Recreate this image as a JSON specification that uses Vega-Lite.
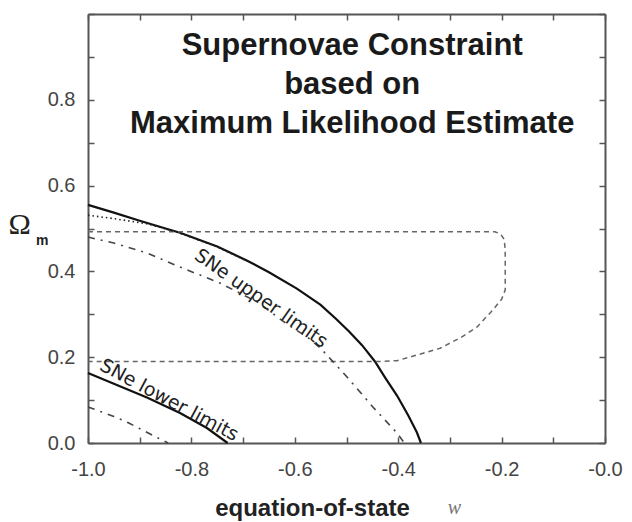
{
  "$schema": "https://vega.github.io/schema/vega-lite/v6.json",
  "width": 517,
  "height": 429,
  "autosize": {"type": "none"},
  "padding": {"left": 88, "top": 14, "right": 27, "bottom": 79},
  "background": "white",
  "config": {
    "view": {"stroke": null},
    "axis": {"grid": false, "domainColor": "#555", "domainWidth": 2, "tickColor": "#555", "tickWidth": 1.5, "tickSize": -6, "labelFont": "Liberation Sans", "labelFontSize": 20, "labelColor": "#444", "labelOverlap": false, "labelFlush": false}
  },
  "datasets": {
    "curves": [
      {"series": "upper_solid", "o": 1, "w": -1.0, "om": 0.555},
      {"series": "upper_solid", "o": 2, "w": -0.95, "om": 0.537},
      {"series": "upper_solid", "o": 3, "w": -0.9, "om": 0.518},
      {"series": "upper_solid", "o": 4, "w": -0.85, "om": 0.5},
      {"series": "upper_solid", "o": 5, "w": -0.822, "om": 0.49},
      {"series": "upper_solid", "o": 6, "w": -0.75, "om": 0.458},
      {"series": "upper_solid", "o": 7, "w": -0.692, "om": 0.425},
      {"series": "upper_solid", "o": 8, "w": -0.65, "om": 0.398},
      {"series": "upper_solid", "o": 9, "w": -0.596, "om": 0.36},
      {"series": "upper_solid", "o": 10, "w": -0.55, "om": 0.322},
      {"series": "upper_solid", "o": 11, "w": -0.52, "om": 0.289},
      {"series": "upper_solid", "o": 12, "w": -0.495, "om": 0.26},
      {"series": "upper_solid", "o": 13, "w": -0.47, "om": 0.228},
      {"series": "upper_solid", "o": 14, "w": -0.445, "om": 0.19},
      {"series": "upper_solid", "o": 15, "w": -0.425, "om": 0.152},
      {"series": "upper_solid", "o": 16, "w": -0.402, "om": 0.11},
      {"series": "upper_solid", "o": 17, "w": -0.38, "om": 0.063},
      {"series": "upper_solid", "o": 18, "w": -0.364, "om": 0.025},
      {"series": "upper_solid", "o": 19, "w": -0.356, "om": 0.0},
      {"series": "upper_dotted", "o": 1, "w": -1.0, "om": 0.531},
      {"series": "upper_dotted", "o": 2, "w": -0.95, "om": 0.523},
      {"series": "upper_dotted", "o": 3, "w": -0.886, "om": 0.511},
      {"series": "upper_dotted", "o": 4, "w": -0.85, "om": 0.499},
      {"series": "upper_dotted", "o": 5, "w": -0.822, "om": 0.489},
      {"series": "upper_dotted", "o": 6, "w": -0.75, "om": 0.457},
      {"series": "upper_dotted", "o": 7, "w": -0.692, "om": 0.424},
      {"series": "upper_dashdot", "o": 1, "w": -1.0, "om": 0.48},
      {"series": "upper_dashdot", "o": 2, "w": -0.95, "om": 0.466},
      {"series": "upper_dashdot", "o": 3, "w": -0.886, "om": 0.443},
      {"series": "upper_dashdot", "o": 4, "w": -0.822, "om": 0.41},
      {"series": "upper_dashdot", "o": 5, "w": -0.745, "om": 0.373},
      {"series": "upper_dashdot", "o": 6, "w": -0.673, "om": 0.329},
      {"series": "upper_dashdot", "o": 7, "w": -0.615, "om": 0.277},
      {"series": "upper_dashdot", "o": 8, "w": -0.576, "om": 0.247},
      {"series": "upper_dashdot", "o": 9, "w": -0.551, "om": 0.222},
      {"series": "upper_dashdot", "o": 10, "w": -0.499, "om": 0.154},
      {"series": "upper_dashdot", "o": 11, "w": -0.449, "om": 0.084},
      {"series": "upper_dashdot", "o": 12, "w": -0.402, "om": 0.023},
      {"series": "upper_dashdot", "o": 13, "w": -0.388, "om": 0.0},
      {"series": "lower_solid", "o": 1, "w": -1.0, "om": 0.163},
      {"series": "lower_solid", "o": 2, "w": -0.95, "om": 0.138},
      {"series": "lower_solid", "o": 3, "w": -0.886, "om": 0.106},
      {"series": "lower_solid", "o": 4, "w": -0.822, "om": 0.07},
      {"series": "lower_solid", "o": 5, "w": -0.77, "om": 0.035},
      {"series": "lower_solid", "o": 6, "w": -0.73, "om": 0.0},
      {"series": "lower_dashdot", "o": 1, "w": -1.0, "om": 0.084},
      {"series": "lower_dashdot", "o": 2, "w": -0.95, "om": 0.062},
      {"series": "lower_dashdot", "o": 3, "w": -0.922, "om": 0.047},
      {"series": "lower_dashdot", "o": 4, "w": -0.865, "om": 0.012},
      {"series": "lower_dashdot", "o": 5, "w": -0.845, "om": 0.0},
      {"series": "contour", "o": 1, "w": -1.0, "om": 0.4925},
      {"series": "contour", "o": 2, "w": -0.213, "om": 0.4925},
      {"series": "contour", "o": 3, "w": -0.202, "om": 0.487},
      {"series": "contour", "o": 4, "w": -0.195, "om": 0.475},
      {"series": "contour", "o": 5, "w": -0.193, "om": 0.45},
      {"series": "contour", "o": 6, "w": -0.193, "om": 0.357},
      {"series": "contour", "o": 7, "w": -0.2, "om": 0.335},
      {"series": "contour", "o": 8, "w": -0.217, "om": 0.31},
      {"series": "contour", "o": 9, "w": -0.248, "om": 0.27},
      {"series": "contour", "o": 10, "w": -0.28, "om": 0.245},
      {"series": "contour", "o": 11, "w": -0.319, "om": 0.221},
      {"series": "contour", "o": 12, "w": -0.358, "om": 0.207},
      {"series": "contour", "o": 13, "w": -0.402, "om": 0.192},
      {"series": "contour", "o": 14, "w": -0.435, "om": 0.19},
      {"series": "contour", "o": 15, "w": -1.0, "om": 0.19}
    ],
    "one": [{}]
  },
  "resolve": {"axis": {"x": "independent", "y": "independent"}},
  "layer": [
    {
      "data": {"name": "curves"},
      "transform": [{"filter": "datum.series == 'upper_solid'"}],
      "mark": {"type": "line", "color": "#111", "strokeWidth": 2.2},
      "encoding": {
        "x": {"field": "w", "type": "quantitative", "scale": {"domain": [-1, 0], "nice": false, "zero": false},
          "axis": {"orient": "bottom", "values": [-1, -0.9, -0.8, -0.7, -0.6, -0.5, -0.4, -0.3, -0.2, -0.1, 0], "labelPadding": 22,
            "labelExpr": "datum.value == 0 ? '-0.0' : (abs(round(datum.value*10)) % 2 == 0 ? '-' + format(abs(datum.value), '.1f') : '')",
            "title": "equation-of-state", "titleFont": "Liberation Sans", "titleFontWeight": "bold", "titleFontSize": 24, "titleColor": "#222",
            "titleX": 224, "titleY": 72, "titleBaseline": "alphabetic", "titleAlign": "center", "titleAnchor": null}},
        "y": {"field": "om", "type": "quantitative", "scale": {"domain": [0, 1], "nice": false, "zero": false},
          "axis": {"orient": "left", "values": [0, 0.1, 0.2, 0.3, 0.4, 0.5, 0.6, 0.7, 0.8, 0.9, 1.0], "labelPadding": 19,
            "labelExpr": "(round(datum.value*10) % 2 == 0 && datum.value < 0.95) ? format(datum.value, '.1f') : ''",
            "title": "Ω", "titleFont": "Liberation Serif", "titleFontWeight": "normal", "titleFontSize": 30, "titleColor": "#222",
            "titleAngle": 0, "titleX": -80, "titleY": 219, "titleBaseline": "alphabetic", "titleAlign": "left", "titleAnchor": null}},
        "order": {"field": "o", "type": "quantitative"}
      }
    },
    {
      "data": {"name": "curves"},
      "transform": [{"filter": "datum.series == 'contour'"}],
      "mark": {"type": "line", "color": "#666", "strokeWidth": 1.5, "strokeDash": [5, 4]},
      "encoding": {
        "x": {"field": "w", "type": "quantitative", "scale": {"domain": [-1, 0], "nice": false, "zero": false},
          "axis": {"orient": "top", "values": [-1, -0.9, -0.8, -0.7, -0.6, -0.5, -0.4, -0.3, -0.2, -0.1, 0], "labels": false, "title": null}},
        "y": {"field": "om", "type": "quantitative", "scale": {"domain": [0, 1], "nice": false, "zero": false},
          "axis": {"orient": "right", "values": [0, 0.1, 0.2, 0.3, 0.4, 0.5, 0.6, 0.7, 0.8, 0.9, 1.0], "labels": false, "title": null}},
        "order": {"field": "o", "type": "quantitative"}
      }
    },
    {
      "data": {"name": "curves"},
      "transform": [{"filter": "datum.series == 'upper_dotted'"}],
      "mark": {"type": "line", "color": "#222", "strokeWidth": 1.6, "strokeDash": [1.5, 3]},
      "encoding": {
        "x": {"field": "w", "type": "quantitative", "axis": null},
        "y": {"field": "om", "type": "quantitative", "axis": null},
        "order": {"field": "o", "type": "quantitative"}
      }
    },
    {
      "data": {"name": "curves"},
      "transform": [{"filter": "datum.series == 'upper_dashdot' || datum.series == 'lower_dashdot'"}],
      "mark": {"type": "line", "color": "#444", "strokeWidth": 1.6, "strokeDash": [7, 6, 2, 6]},
      "encoding": {
        "x": {"field": "w", "type": "quantitative", "axis": null},
        "y": {"field": "om", "type": "quantitative", "axis": null},
        "detail": {"field": "series"},
        "order": {"field": "o", "type": "quantitative"}
      }
    },
    {
      "data": {"name": "curves"},
      "transform": [{"filter": "datum.series == 'lower_solid'"}],
      "mark": {"type": "line", "color": "#111", "strokeWidth": 2.2},
      "encoding": {
        "x": {"field": "w", "type": "quantitative", "axis": null},
        "y": {"field": "om", "type": "quantitative", "axis": null},
        "order": {"field": "o", "type": "quantitative"}
      }
    },
    {
      "data": {"name": "one"},
      "mark": {"type": "text", "text": ["Supernovae Constraint", "based on", "Maximum Likelihood Estimate"], "font": "Liberation Sans", "fontWeight": "bold", "fontSize": 31, "lineHeight": 39, "align": "center", "baseline": "alphabetic", "color": "#1a1a1a"},
      "encoding": {
        "x": {"datum": -0.489, "type": "quantitative", "axis": null},
        "y": {"datum": 0.904, "type": "quantitative", "axis": null}
      }
    },
    {
      "data": {"name": "one"},
      "mark": {"type": "text", "text": "SNe upper limits", "font": "DejaVu Sans", "fontSize": 19, "angle": 35, "align": "center", "baseline": "middle", "color": "#222"},
      "encoding": {
        "x": {"datum": -0.665, "type": "quantitative", "axis": null},
        "y": {"datum": 0.337, "type": "quantitative", "axis": null}
      }
    },
    {
      "data": {"name": "one"},
      "mark": {"type": "text", "text": "SNe lower limits", "font": "DejaVu Sans", "fontSize": 19, "angle": 28, "align": "center", "baseline": "middle", "color": "#222"},
      "encoding": {
        "x": {"datum": -0.843, "type": "quantitative", "axis": null},
        "y": {"datum": 0.1, "type": "quantitative", "axis": null}
      }
    },
    {
      "data": {"name": "one"},
      "mark": {"type": "text", "text": "m", "font": "Liberation Sans", "fontWeight": "bold", "fontSize": 14, "align": "left", "baseline": "alphabetic", "color": "#222", "dx": -52},
      "encoding": {
        "x": {"datum": -1.0, "type": "quantitative", "axis": null},
        "y": {"datum": 0.4615, "type": "quantitative", "axis": null}
      }
    },
    {
      "data": {"name": "one"},
      "mark": {"type": "text", "text": "w", "font": "Liberation Serif", "fontStyle": "italic", "fontSize": 20, "align": "left", "baseline": "alphabetic", "color": "#777", "dy": 71},
      "encoding": {
        "x": {"datum": -0.304, "type": "quantitative", "axis": null},
        "y": {"datum": 0.0, "type": "quantitative", "axis": null}
      }
    }
  ]
}
